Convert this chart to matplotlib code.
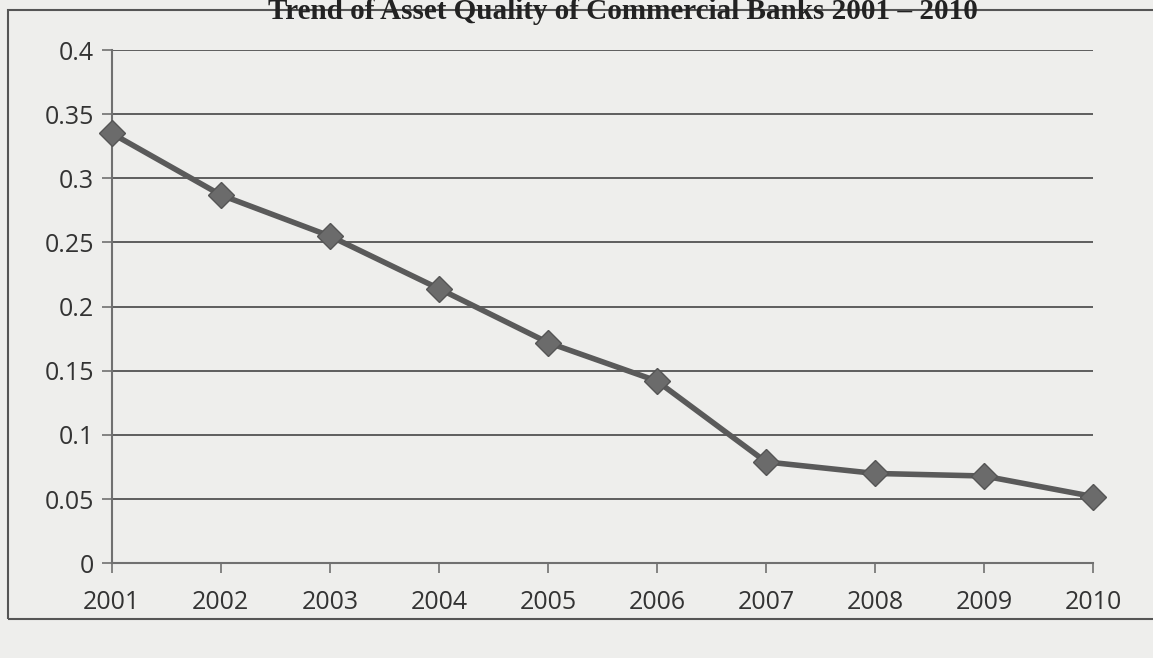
import matplotlib.pyplot as plt
from matplotlib.patches import Rectangle

years = ["2001", "2002", "2003", "2004", "2005", "2006", "2007", "2008", "2009", "2010"]
asset_quality = [0.335, 0.287, 0.255, 0.214, 0.172, 0.142, 0.079, 0.070, 0.068, 0.052]
y_ticks = [0, 0.05, 0.1, 0.15, 0.2, 0.25, 0.3, 0.35, 0.4]
y_labels = ["0", "0.05", "0.1", "0.15", "0.2", "0.25", "0.3", "0.35", "0.4"]

bg = "#eeeeec"
fig = plt.figure(figsize=(11.53, 6.58), dpi=100, facecolor=bg)
ax = fig.add_axes([0.097, 0.144, 0.851, 0.780], facecolor=bg)

x = list(range(len(years)))
ax.plot(x, asset_quality, color="#5a5a5a", lw=4, marker="D", ms=13,
        mfc="#6b6b6b", mec="#555555", zorder=3, clip_on=False)

ax.set_xlim(0, len(years) - 1)
ax.set_ylim(0, 0.4)
ax.set_yticks(y_ticks)
ax.set_yticklabels(y_labels, fontsize=18, color="#333333", family="Open Sans")
ax.set_xticks(x)
ax.set_xticklabels(years, fontsize=18, color="#333333", family="Open Sans")
ax.grid(axis="y", color="#5e5e5e", lw=1.4)
ax.set_axisbelow(True)

for s in ["top", "right"]:
    ax.spines[s].set_visible(False)
ax.spines["left"].set_color("#707070")
ax.spines["bottom"].set_color("#707070")
ax.spines["left"].set_linewidth(1.5)
ax.spines["bottom"].set_linewidth(1.5)
ax.tick_params(axis="x", direction="out", length=7, color="#707070", width=1.2, pad=12)
ax.tick_params(axis="y", length=7, color="#707070", width=1.2, pad=6)

# outer chart frame
fig.add_artist(Rectangle((0.007, 0.06), 1.1, 0.925, transform=fig.transFigure,
                         fill=False, edgecolor="#555555", lw=1.5))

fig.text(0.54, 0.982, "Trend of Asset Quality of Commercial Banks 2001 \u2013 2010",
         ha="center", va="center", fontsize=21, fontweight="bold",
         family="Liberation Serif", color="#222222")

fig.savefig("out.png", dpi=100, facecolor=bg)
